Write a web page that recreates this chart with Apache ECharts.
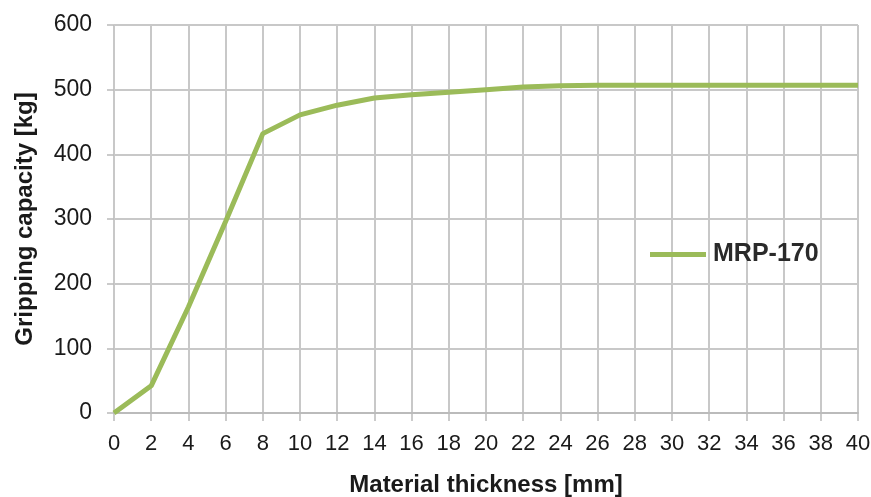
<!DOCTYPE html>
<html><head><meta charset="utf-8">
<script src="https://cdn.jsdelivr.net/npm/echarts@6/dist/echarts.min.js"></script>
<style>html,body{margin:0;padding:0;background:#fff}#c{width:871px;height:497px}</style>
</head><body><div id="c"></div>
<script>
const thickness = [0,2,4,6,8,10,12,14,16,18,20,22,24,26,28,30,32,34,36,38,40];
const capacity = [0,42,164,296,432,461,476,487,492,496,500,504,506,507,507,507,507,507,507,507,507];
const seriesName = 'MRP-170';
const font = '"Liberation Sans",Arial,sans-serif';
const chart = echarts.init(document.getElementById('c'));
chart.setOption({
  animation:false,
  backgroundColor:'#fff',
  grid:{left:114,right:13,top:25,bottom:84,containLabel:false,outerBoundsMode:'none'},
  legend:{
    data:[seriesName], left:645, top:237, icon:'rect', itemWidth:56, itemHeight:5, itemGap:6,
    textStyle:{fontFamily:font,fontSize:25,fontWeight:'bold',color:'#2a2a2a',padding:[0,0,0,2]}
  },
  xAxis:{
    type:'value', min:0, max:40, interval:2,
    name:'Material thickness [mm]', nameLocation:'middle', nameGap:60,
    nameTextStyle:{fontFamily:font,fontSize:24,fontWeight:'bold',color:'#1a1a1a'},
    axisLine:{lineStyle:{color:'#bbb',width:2}},
    axisTick:{show:true,length:8,lineStyle:{color:'#bbb',width:1.5}},
    axisLabel:{fontFamily:font,fontSize:22,color:'#1a1a1a',margin:20},
    splitLine:{show:true,lineStyle:{color:'#c8c8c8',width:2}}
  },
  yAxis:{
    type:'value', min:0, max:600, interval:100,
    name:'Gripping capacity [kg]', nameLocation:'middle', nameGap:77, nameRotate:90,
    nameTextStyle:{fontFamily:font,fontSize:24,fontWeight:'bold',color:'#1a1a1a'},
    axisLine:{show:false},
    axisTick:{show:true,length:7,lineStyle:{color:'#bbb',width:1.5}},
    axisLabel:{fontFamily:font,fontSize:23,color:'#1a1a1a',margin:22},
    splitLine:{show:true,lineStyle:{color:'#c8c8c8',width:2}}
  },
  series:[{
    name:seriesName, type:'line', data:thickness.map((t,i)=>[t,capacity[i]]),
    showSymbol:false, symbol:'none', lineStyle:{color:'#9bbb59',width:5}, itemStyle:{color:'#9bbb59'}
  }]
});
</script></body></html>
